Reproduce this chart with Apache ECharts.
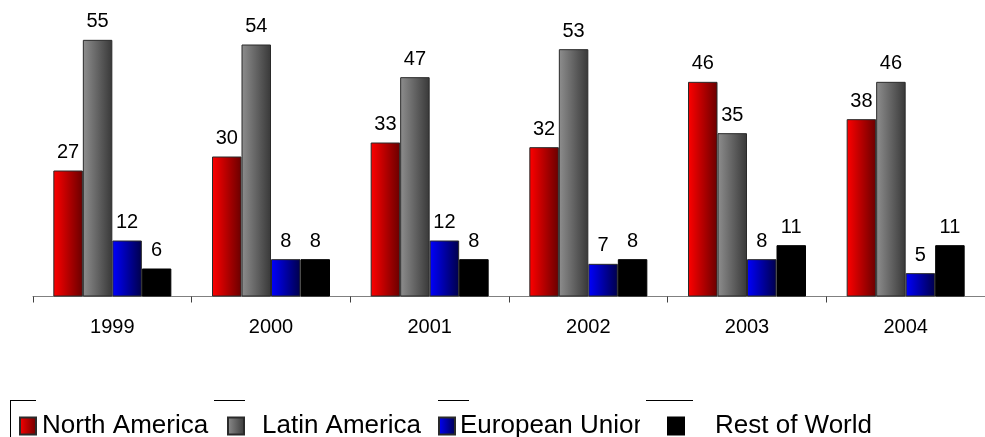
<!DOCTYPE html>
<html>
<head>
<meta charset="utf-8">
<script src="https://cdn.jsdelivr.net/npm/echarts@6/dist/echarts.min.js"></script>
<style>
  html, body { margin: 0; padding: 0; background: #ffffff; }
  #chart { width: 985px; height: 437px; }
</style>
</head>
<body>
<div id="chart"></div>
<script>
// Categories and values per region
const years = ['1999', '2000', '2001', '2002', '2003', '2004'];
const northAmerica = [27, 30, 33, 32, 46, 38];
const latinAmerica = [55, 54, 47, 53, 35, 46];
const europeanUnion = [12, 8, 12, 7, 8, 5];
const restOfWorld = [6, 8, 8, 8, 11, 11];
const seriesNames = ['North America', 'Latin America', 'European Union', 'Rest of World'];

const FONT = '"Liberation Sans", Arial, sans-serif';

function hGrad(c1, c2) {
  return new echarts.graphic.LinearGradient(0, 0, 1, 0, [
    { offset: 0, color: c1 },
    { offset: 1, color: c2 }
  ]);
}

const styles = [
  { color: hGrad('#ff0000', '#6a0000'), borderColor: '#2a2a2a', borderWidth: 1 },
  { color: hGrad('#8e8e8e', '#383838'), borderColor: '#2a2a2a', borderWidth: 1 },
  { color: hGrad('#0000ff', '#00004a'), borderColor: '#2a2a2a', borderWidth: 1 },
  { color: '#000000', borderColor: '#000000', borderWidth: 1 }
];
const values = [northAmerica, latinAmerica, europeanUnion, restOfWorld];

const series = seriesNames.map((name, i) => ({
  name: name,
  type: 'bar',
  data: values[i],
  barWidth: 29.5,
  barGap: '0%',
  itemStyle: styles[i],
  label: {
    show: true,
    position: 'top',
    distance: 8,
    color: '#000000',
    fontFamily: FONT,
    fontSize: 20
  }
}));

// One legend block per entry so each can sit at its own place
const legendSpots = [
  { left: 19, pad: 1 },
  { left: 227, pad: 13 },
  { left: 438, pad: 0 },
  { left: 667, pad: 26 }
];
const legends = seriesNames.map((name, i) => ({
  data: [name],
  left: legendSpots[i].left,
  top: 413,
  padding: 0,
  itemWidth: 16,
  itemHeight: 17,
  icon: 'rect',
  textStyle: {
    fontFamily: FONT,
    fontSize: 26,
    color: '#000000',
    padding: [0, 0, 0, legendSpots[i].pad]
  }
}));

const chart = echarts.init(document.getElementById('chart'), null, { renderer: 'canvas' });
chart.setOption({
  animation: false,
  backgroundColor: '#ffffff',
  grid: { left: 33, top: 16.5, width: 962, height: 280, containLabel: false },
  xAxis: {
    type: 'category',
    data: years,
    axisLine: { lineStyle: { color: '#808080', width: 1 } },
    axisTick: { show: true, length: 6, lineStyle: { color: '#404040' } },
    axisLabel: { margin: 21, color: '#000000', fontFamily: FONT, fontSize: 20 }
  },
  yAxis: {
    type: 'value',
    min: 0,
    max: 60,
    interval: 10,
    show: false,
    splitLine: { show: false }
  },
  legend: legends,
  graphic: [
    // legend frame pieces
    { type: 'line', z: 100, shape: { x1: 10.5, y1: 400.5, x2: 10.5, y2: 437 }, style: { stroke: '#000', lineWidth: 1 } },
    { type: 'line', z: 100, shape: { x1: 10, y1: 400.5, x2: 36, y2: 400.5 }, style: { stroke: '#000', lineWidth: 1 } },
    { type: 'line', z: 100, shape: { x1: 214, y1: 400.5, x2: 245, y2: 400.5 }, style: { stroke: '#000', lineWidth: 1 } },
    { type: 'line', z: 100, shape: { x1: 438, y1: 400.5, x2: 469, y2: 400.5 }, style: { stroke: '#000', lineWidth: 1 } },
    { type: 'line', z: 100, shape: { x1: 646, y1: 400.5, x2: 693, y2: 400.5 }, style: { stroke: '#000', lineWidth: 1 } },
    // the tail of the third entry sits under the fourth entry's box
    { type: 'rect', z: 100, shape: { x: 640, y: 405, width: 22, height: 32 }, style: { fill: '#ffffff' } }
  ],
  series: series
});
</script>
</body>
</html>
